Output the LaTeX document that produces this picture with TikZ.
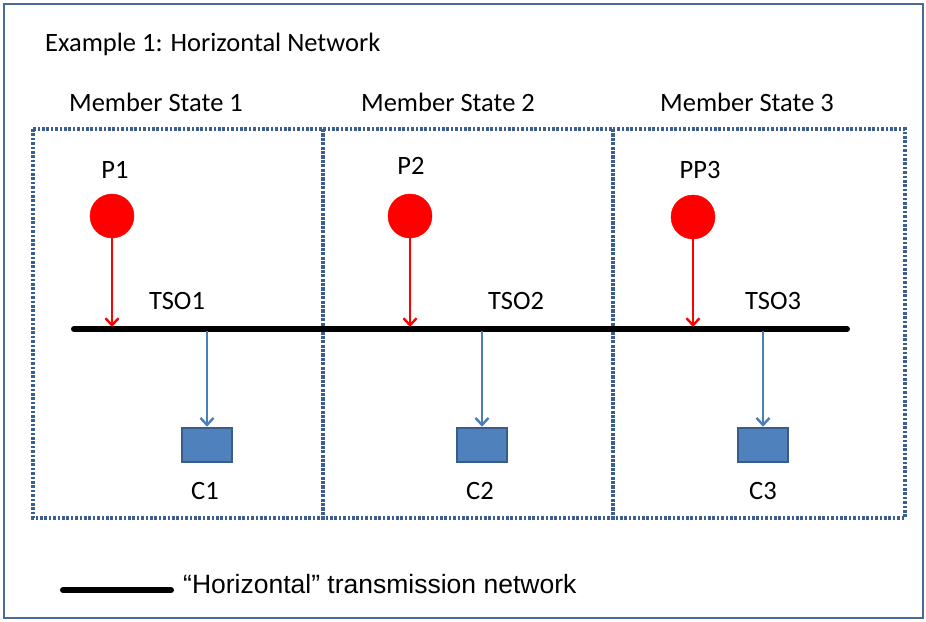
\documentclass[tikz,border=0pt]{standalone}
\usepackage{fontspec}
\setmainfont{Carlito}
\newfontfamily\arialfont{Liberation Sans}
\usetikzlibrary{arrows.meta}
\definecolor{frameblue}{HTML}{4A6A99}
\definecolor{dotblue}{HTML}{3D5F8F}
\definecolor{boxfill}{HTML}{4F81BD}
\definecolor{boxedge}{HTML}{385D8A}
\definecolor{arrowblue}{HTML}{4A7EBB}
\tikzset{
  lbl/.style={font=\fontsize{26.5}{30}\selectfont, inner sep=0pt, anchor=center},
  msbox/.style={draw=dotblue, line width=3.4pt, dash pattern=on 2.6pt off 1.8pt},
  prod/.style={circle, fill=red, draw=red, minimum size=44pt, inner sep=0pt},
  cons/.style={rectangle, fill=boxfill, draw=boxedge, line width=2.6pt, minimum width=50pt, minimum height=34pt, inner sep=0pt},
  redarr/.style={draw=red, line width=2.4pt, -{Straight Barb[length=7pt,width=13pt,line width=2.4pt]}},
  bluearr/.style={draw=arrowblue, line width=2.4pt, -{Straight Barb[length=7pt,width=13pt,line width=2.4pt]}},
  net/.style={line width=6pt, black, line cap=round}
}
\begin{document}
\begin{tikzpicture}[x=1pt,y=-1pt]
\useasboundingbox (0,0) rectangle (926,621);
\draw[frameblue, line width=2.6pt] (4,4) rectangle (923,618);
\node[lbl, anchor=west] (title) at (45,44) {Example 1: Horizontal Network};
\node[lbl] (ms1) at (156,102) {Member State 1};
\node[lbl] (ms2) at (448,102) {Member State 2};
\node[lbl] (ms3) at (747,102) {Member State 3};
\draw[msbox] (33,129) rectangle (323,518);
\draw[msbox] (323,129) rectangle (613,518);
\draw[msbox] (613,129) rectangle (905,518);
% network
\coordinate (nl) at (74,329);
\coordinate (nr) at (847,329);
\draw[net] (nl) -- (nr);
% producers
\node[prod] (p1) at (112,216) {};
\node[prod] (p2) at (410,216) {};
\node[prod] (p3) at (693,217) {};
\node[lbl] (p1l) at (115,170) {P1};
\node[lbl] (p2l) at (411,166) {P2};
\node[lbl] (p3l) at (700,170) {PP3};
\coordinate (t1) at (112,327);
\coordinate (t2) at (410,327);
\coordinate (t3) at (693,327);
\draw[redarr] (p1.south) -- (t1);
\draw[redarr] (p2.south) -- (t2);
\draw[redarr] (p3.south) -- (t3);
% TSO labels
\node[lbl] (tso1) at (177,301) {TSO1};
\node[lbl] (tso2) at (516,301) {TSO2};
\node[lbl] (tso3) at (773,301) {TSO3};
% consumers
\node[cons] (c1) at (207,445) {};
\node[cons] (c2) at (482,445) {};
\node[cons] (c3) at (763,445) {};
\coordinate (s1) at (207,331);
\coordinate (s2) at (482,331);
\coordinate (s3) at (763,331);
\draw[bluearr] (s1) -- (c1.north);
\draw[bluearr] (s2) -- (c2.north);
\draw[bluearr] (s3) -- (c3.north);
\node[lbl] (c1l) at (205,491) {C1};
\node[lbl] (c2l) at (480,491) {C2};
\node[lbl] (c3l) at (763,491) {C3};
% legend
\coordinate (ll) at (63,590);
\coordinate (lr) at (171,590);
\draw[net] (ll) -- (lr);
\node[font=\arialfont\fontsize{26.5}{30}\selectfont, inner sep=0pt, anchor=west] (leg) at (183,584) {“Horizontal” transmission network};
\end{tikzpicture}
\end{document}
